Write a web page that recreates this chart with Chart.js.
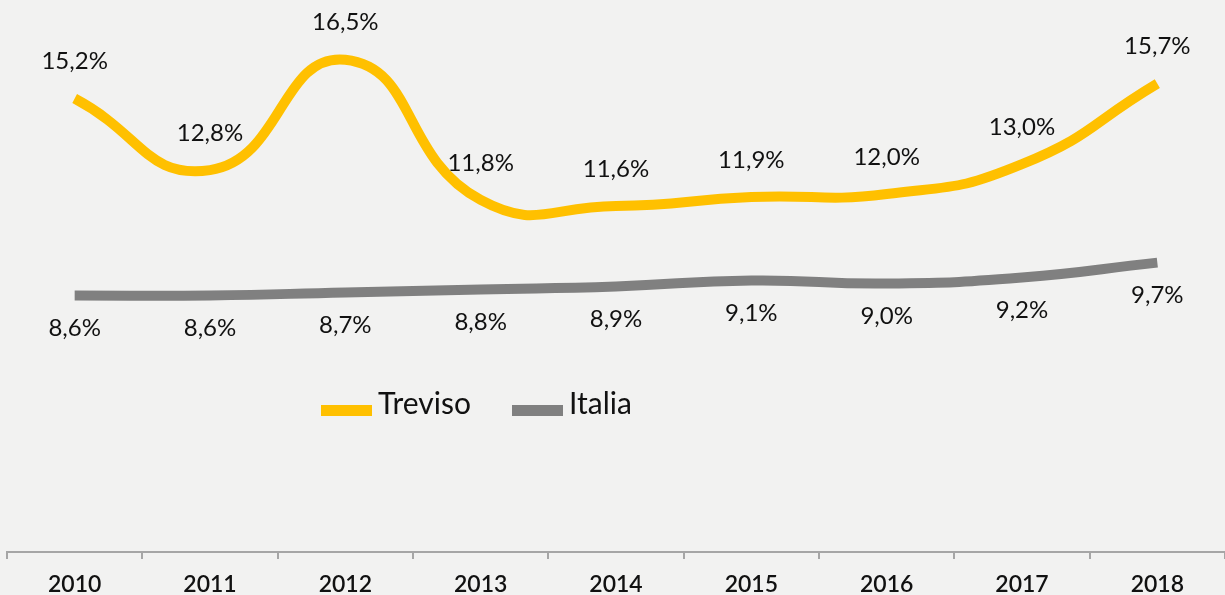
<!DOCTYPE html>
<html>
<head>
<meta charset="utf-8">
<script src="https://cdn.jsdelivr.net/npm/chart.js@4.4.1/dist/chart.umd.min.js"></script>
<style>
  html, body { margin: 0; padding: 0; background: #f2f2f1; }
  #wrap { position: relative; width: 1225px; height: 595px; }
</style>
</head>
<body>
<div id="wrap"><canvas id="c" width="1225" height="595"></canvas></div>
<script>
const categories = ['2010','2011','2012','2013','2014','2015','2016','2017','2018'];
const treviso = [15.2, 12.8, 16.5, 11.8, 11.6, 11.9, 12.0, 13.0, 15.7];
const italia = [8.6, 8.6, 8.7, 8.8, 8.9, 9.1, 9.0, 9.2, 9.7];
const seriesNames = ['Treviso', 'Italia'];
const seriesColors = ['#FFC000', '#808080'];

const FONT = 'Lato, "Open Sans", sans-serif';

const dataLabels = {
  id: 'dataLabels',
  afterDatasetsDraw(chart) {
    const ctx = chart.ctx;
    ctx.save();
    ctx.font = '24px ' + FONT;
    ctx.fillStyle = '#111111';
    ctx.textAlign = 'center';
    ctx.textBaseline = 'middle';
    chart.data.datasets.forEach((ds, i) => {
      const meta = chart.getDatasetMeta(i);
      const off = i === 0 ? -37 : 33;
      meta.data.forEach((pt, j) => {
        const txt = ds.data[j].toFixed(1).replace('.', ',') + '%';
        ctx.fillText(txt, pt.x, pt.y + off);
      });
    });
    ctx.restore();
  }
};

const customLegend = {
  id: 'customLegend',
  afterDraw(chart) {
    const ctx = chart.ctx;
    ctx.save();
    const items = [
      {x: 321, tx: 378},
      {x: 512, tx: 569}
    ];
    ctx.font = '30px ' + FONT;
    ctx.textBaseline = 'middle';
    ctx.textAlign = 'left';
    chart.data.datasets.forEach((ds, i) => {
      const it = items[i];
      ctx.fillStyle = ds.borderColor;
      ctx.fillRect(it.x, 405, 51, 11);
      ctx.fillStyle = '#111111';
      ctx.fillText(ds.label, it.tx, 404);
    });
    ctx.restore();
  }
};

new Chart(document.getElementById('c'), {
  type: 'line',
  data: {
    labels: categories,
    datasets: [
      { label: seriesNames[0], data: treviso, borderColor: seriesColors[0], backgroundColor: seriesColors[0],
        borderWidth: 10, pointRadius: 0, tension: 0.5, borderCapStyle: 'butt', fill: false },
      { label: seriesNames[1], data: italia, borderColor: seriesColors[1], backgroundColor: seriesColors[1],
        borderWidth: 10, pointRadius: 0, tension: 0.5, borderCapStyle: 'butt', fill: false }
    ]
  },
  options: {
    responsive: false,
    animation: false,
    layout: { padding: { left: 7, right: 0, top: 15, bottom: 0 } },
    plugins: { legend: { display: false }, tooltip: { enabled: false } },
    scales: {
      y: { display: false, min: 0, max: 18 },
      x: {
        offset: true,
        afterFit(s) { s.height = 43; },
        grid: { offset: true, drawOnChartArea: false, drawTicks: true, tickLength: 7, color: '#a6a6a6', lineWidth: 2 },
        border: { display: true, color: '#a6a6a6', width: 2 },
        ticks: { color: '#111111', font: { family: FONT, size: 23, weight: '600' }, padding: 12, maxRotation: 0 }
      }
    }
  },
  plugins: [dataLabels, customLegend]
});
</script>
</body>
</html>
